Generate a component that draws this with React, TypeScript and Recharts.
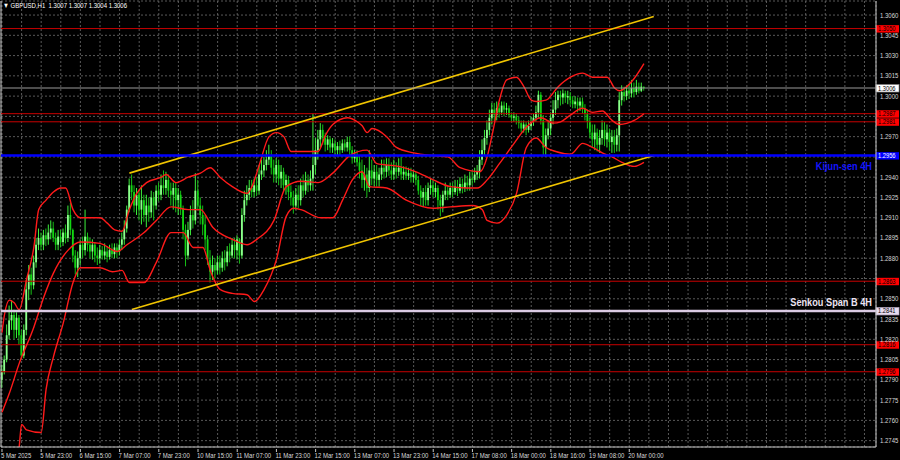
import React from 'react';
import { ComposedChart, Bar, Line, XAxis, YAxis, CartesianGrid, ReferenceLine } from 'recharts';

// ---------- data ----------
const opens = [1.2790,1.2796,1.2805,1.2823,1.2834,1.2838,1.2827,1.2836,1.2823,1.2808,
1.2827,1.2857,1.2868,1.2860,1.2877,1.2890,1.2895,1.2890,1.2897,1.2894,
1.2899,1.2902,1.2895,1.2890,1.2896,1.2892,1.2899,1.2895,1.2912,1.2901,
1.2882,1.2873,1.2880,1.2890,1.2886,1.2896,1.2890,1.2885,1.2890,1.2882,
1.2880,1.2886,1.2882,1.2885,1.2881,1.2886,1.2883,1.2888,1.2885,1.2890,
1.2894,1.2902,1.2916,1.2934,1.2929,1.2919,1.2927,1.2916,1.2923,1.2912,
1.2919,1.2914,1.2925,1.2919,1.2930,1.2927,1.2934,1.2932,1.2938,1.2930,
1.2927,1.2932,1.2923,1.2927,1.2917,1.2901,1.2882,1.2901,1.2912,1.2908,
1.2930,1.2919,1.2912,1.2905,1.2894,1.2879,1.2870,1.2875,1.2871,1.2877,
1.2873,1.2880,1.2877,1.2885,1.2882,1.2890,1.2886,1.2894,1.2882,1.2912,
1.2923,1.2927,1.2932,1.2929,1.2934,1.2930,1.2942,1.2945,1.2949,1.2953,
1.2956,1.2947,1.2942,1.2949,1.2939,1.2944,1.2934,1.2938,1.2929,1.2925,
1.2919,1.2927,1.2923,1.2934,1.2930,1.2938,1.2934,1.2939,1.2949,1.2960,
1.2968,1.2975,1.2969,1.2964,1.2968,1.2962,1.2965,1.2960,1.2963,1.2960,
1.2965,1.2962,1.2966,1.2960,1.2954,1.2956,1.2951,1.2945,1.2938,1.2942,
1.2932,1.2945,1.2939,1.2944,1.2938,1.2942,1.2947,1.2944,1.2949,1.2945,
1.2942,1.2947,1.2944,1.2947,1.2942,1.2944,1.2941,1.2943,1.2940,1.2942,
1.2938,1.2930,1.2925,1.2929,1.2923,1.2932,1.2934,1.2929,1.2932,1.2923,
1.2919,1.2927,1.2930,1.2927,1.2932,1.2929,1.2933,1.2930,1.2935,1.2932,
1.2936,1.2934,1.2939,1.2938,1.2942,1.2944,1.2953,1.2960,1.2969,1.2975,
1.2984,1.2990,1.2986,1.2991,1.2988,1.2993,1.2990,1.2991,1.2986,1.2984,
1.2985,1.2982,1.2980,1.2976,1.2979,1.2975,1.2978,1.2981,1.2984,1.2988,
1.3001,1.2982,1.2962,1.2971,1.2976,1.2984,1.2990,1.2997,1.3001,1.2999,
1.3002,1.2999,1.3000,1.2997,1.2994,1.2996,1.2993,1.2996,1.2991,1.2987,
1.2981,1.2973,1.2968,1.2973,1.2964,1.2969,1.2975,1.2968,1.2973,1.2966,
1.2970,1.2964,1.2971,1.2997,1.3003,1.3000,1.3004,1.3002,1.3006,1.3003,
1.3007,1.3004,1.3007];

const highs = [1.2801,1.2808,1.2831,1.2845,1.2849,1.2842,1.2840,1.2838,1.2827,1.2831,
1.2864,1.2875,1.2873,1.2882,1.2895,1.2902,1.2899,1.2901,1.2902,1.2905,
1.2908,1.2907,1.2899,1.2901,1.2901,1.2902,1.2905,1.2919,1.2921,1.2902,
1.2886,1.2885,1.2894,1.2896,1.2916,1.2899,1.2895,1.2894,1.2892,1.2888,
1.2890,1.2889,1.2891,1.2889,1.2890,1.2891,1.2891,1.2891,1.2894,1.2899,
1.2908,1.2919,1.2939,1.2942,1.2934,1.2932,1.2930,1.2934,1.2927,1.2927,
1.2925,1.2930,1.2929,1.2934,1.2936,1.2942,1.2945,1.2944,1.2942,1.2936,
1.2936,1.2936,1.2932,1.2930,1.2919,1.2905,1.2907,1.2919,1.2923,1.2943,
1.2938,1.2925,1.2919,1.2912,1.2897,1.2886,1.2882,1.2880,1.2882,1.2882,
1.2885,1.2886,1.2889,1.2891,1.2895,1.2895,1.2897,1.2895,1.2917,1.2930,
1.2934,1.2938,1.2938,1.2939,1.2940,1.2949,1.2953,1.2955,1.2960,1.2964,
1.2960,1.2953,1.2954,1.2953,1.2949,1.2947,1.2942,1.2941,1.2934,1.2930,
1.2932,1.2934,1.2939,1.2942,1.2944,1.2942,1.2945,1.2987,1.2969,1.2975,
1.2980,1.2979,1.2973,1.2971,1.2970,1.2969,1.2968,1.2966,1.2967,1.2968,
1.2968,1.2970,1.2970,1.2963,1.2960,1.2960,1.2956,1.2953,1.2949,1.2947,
1.2960,1.2953,1.2949,1.2949,1.2947,1.2953,1.2953,1.2954,1.2954,1.2951,
1.2953,1.2951,1.2954,1.2955,1.2948,1.2948,1.2947,1.2947,1.2945,1.2944,
1.2941,1.2934,1.2932,1.2934,1.2936,1.2939,1.2938,1.2936,1.2934,1.2927,
1.2930,1.2936,1.2934,1.2936,1.2936,1.2938,1.2938,1.2940,1.2939,1.2942,
1.2941,1.2944,1.2945,1.2947,1.2949,1.2960,1.2968,1.2975,1.2982,1.2990,
1.2995,1.2995,1.2996,1.2995,1.2996,1.2996,1.2995,1.2993,1.2988,1.2988,
1.2987,1.2985,1.2982,1.2982,1.2981,1.2982,1.2985,1.2987,1.2993,1.3004,
1.3003,1.2986,1.2976,1.2982,1.2988,1.2997,1.3003,1.3004,1.3004,1.3005,
1.3004,1.3004,1.3003,1.3000,1.3000,1.2999,1.2999,1.2999,1.2994,1.2990,
1.2984,1.2979,1.2979,1.2976,1.2975,1.2982,1.2981,1.2979,1.2976,1.2975,
1.2975,1.2976,1.3003,1.3008,1.3007,1.3008,1.3009,1.3012,1.3010,1.3012,
1.3010,1.3010,1.3007];

const lows = [1.2784,1.2794,1.2803,1.2820,1.2827,1.2820,1.2821,1.2816,1.2805,1.2806,
1.2823,1.2849,1.2853,1.2857,1.2873,1.2886,1.2886,1.2886,1.2889,1.2890,
1.2894,1.2892,1.2886,1.2886,1.2888,1.2889,1.2891,1.2892,1.2897,1.2877,
1.2868,1.2866,1.2875,1.2880,1.2882,1.2885,1.2880,1.2879,1.2877,1.2875,
1.2876,1.2879,1.2879,1.2877,1.2879,1.2880,1.2880,1.2880,1.2882,1.2886,
1.2890,1.2899,1.2914,1.2923,1.2914,1.2912,1.2908,1.2905,1.2907,1.2903,
1.2907,1.2910,1.2908,1.2916,1.2922,1.2923,1.2927,1.2927,1.2925,1.2919,
1.2916,1.2914,1.2912,1.2912,1.2894,1.2874,1.2879,1.2897,1.2902,1.2905,
1.2916,1.2905,1.2897,1.2886,1.2875,1.2862,1.2864,1.2865,1.2868,1.2868,
1.2870,1.2871,1.2874,1.2877,1.2880,1.2880,1.2879,1.2876,1.2880,1.2907,
1.2919,1.2923,1.2925,1.2925,1.2926,1.2927,1.2938,1.2940,1.2945,1.2949,
1.2942,1.2936,1.2936,1.2934,1.2932,1.2929,1.2927,1.2923,1.2919,1.2913,
1.2916,1.2917,1.2919,1.2925,1.2927,1.2929,1.2930,1.2930,1.2942,1.2953,
1.2962,1.2964,1.2959,1.2960,1.2958,1.2958,1.2956,1.2956,1.2956,1.2958,
1.2959,1.2959,1.2956,1.2950,1.2951,1.2948,1.2939,1.2932,1.2930,1.2925,
1.2929,1.2934,1.2933,1.2933,1.2933,1.2938,1.2939,1.2940,1.2941,1.2938,
1.2938,1.2939,1.2941,1.2938,1.2938,1.2938,1.2938,1.2936,1.2936,1.2934,
1.2927,1.2919,1.2918,1.2919,1.2919,1.2927,1.2925,1.2925,1.2916,1.2911,
1.2914,1.2923,1.2923,1.2925,1.2925,1.2927,1.2926,1.2928,1.2928,1.2929,
1.2930,1.2930,1.2934,1.2936,1.2938,1.2939,1.2949,1.2956,1.2964,1.2971,
1.2979,1.2981,1.2982,1.2984,1.2986,1.2985,1.2986,1.2984,1.2981,1.2981,
1.2979,1.2976,1.2973,1.2973,1.2971,1.2973,1.2975,1.2978,1.2981,1.2984,
1.2979,1.2956,1.2955,1.2968,1.2971,1.2979,1.2986,1.2991,1.2993,1.2994,
1.2995,1.2994,1.2993,1.2991,1.2991,1.2988,1.2989,1.2987,1.2982,1.2976,
1.2969,1.2962,1.2960,1.2959,1.2958,1.2964,1.2963,1.2962,1.2960,1.2958,
1.2958,1.2959,1.2959,1.2993,1.2996,1.2997,1.2998,1.2999,1.2999,1.3001,
1.3002,1.3003,1.3004];

const closes = [1.2796,1.2805,1.2823,1.2834,1.2838,1.2827,1.2836,1.2823,1.2808,1.2827,
1.2857,1.2868,1.2860,1.2877,1.2890,1.2895,1.2890,1.2897,1.2894,1.2899,
1.2902,1.2895,1.2890,1.2896,1.2892,1.2899,1.2895,1.2912,1.2901,1.2882,
1.2873,1.2880,1.2890,1.2886,1.2896,1.2890,1.2885,1.2890,1.2882,1.2880,
1.2886,1.2882,1.2885,1.2881,1.2886,1.2883,1.2888,1.2885,1.2890,1.2894,
1.2902,1.2916,1.2934,1.2929,1.2919,1.2927,1.2916,1.2923,1.2912,1.2919,
1.2914,1.2925,1.2919,1.2930,1.2927,1.2934,1.2932,1.2938,1.2930,1.2927,
1.2932,1.2923,1.2927,1.2917,1.2901,1.2882,1.2901,1.2912,1.2908,1.2930,
1.2919,1.2912,1.2905,1.2894,1.2879,1.2870,1.2875,1.2871,1.2877,1.2873,
1.2880,1.2877,1.2885,1.2882,1.2890,1.2886,1.2894,1.2882,1.2912,1.2923,
1.2927,1.2932,1.2929,1.2934,1.2930,1.2942,1.2945,1.2949,1.2953,1.2956,
1.2947,1.2942,1.2949,1.2939,1.2944,1.2934,1.2938,1.2929,1.2925,1.2919,
1.2927,1.2923,1.2934,1.2930,1.2938,1.2934,1.2939,1.2949,1.2960,1.2968,
1.2975,1.2969,1.2964,1.2968,1.2962,1.2965,1.2960,1.2963,1.2960,1.2965,
1.2962,1.2966,1.2960,1.2954,1.2956,1.2951,1.2945,1.2938,1.2942,1.2932,
1.2945,1.2939,1.2944,1.2938,1.2942,1.2947,1.2944,1.2949,1.2945,1.2942,
1.2947,1.2944,1.2947,1.2942,1.2944,1.2941,1.2943,1.2940,1.2942,1.2938,
1.2930,1.2925,1.2929,1.2923,1.2932,1.2934,1.2929,1.2932,1.2923,1.2919,
1.2927,1.2930,1.2927,1.2932,1.2929,1.2933,1.2930,1.2935,1.2932,1.2936,
1.2934,1.2939,1.2938,1.2942,1.2944,1.2953,1.2960,1.2969,1.2975,1.2984,
1.2990,1.2986,1.2991,1.2988,1.2993,1.2990,1.2991,1.2986,1.2984,1.2985,
1.2982,1.2980,1.2976,1.2979,1.2975,1.2978,1.2981,1.2984,1.2988,1.3001,
1.2982,1.2962,1.2971,1.2976,1.2984,1.2990,1.2997,1.3001,1.2999,1.3002,
1.2999,1.3000,1.2997,1.2994,1.2996,1.2993,1.2996,1.2991,1.2987,1.2981,
1.2973,1.2968,1.2973,1.2964,1.2969,1.2975,1.2968,1.2973,1.2966,1.2970,
1.2964,1.2971,1.2997,1.3003,1.3000,1.3004,1.3002,1.3006,1.3003,1.3007,
1.3004,1.3007,1.3006];

// Bollinger-style envelope (red curves), sampled at bar indices
const upperBandBars = [0,1,3,5,7,10,13,15,18,21,24,26,29,32,40,43,46,49,52,55,59,65,67,71,76,81,85,89,94,100,102,105,109,112,115,118,122,129,132,135,141,145,147,149,151,157,161,168,176,182,187,195,198,200,203,206,210,213,216,218,222,227,232,237,241,247,250,252,255,258,262];
const upperBandVals = [1.2825,1.2838,1.2849,1.2847,1.2842,1.2864,1.2888,1.2916,1.2923,1.2929,1.2932,1.2932,1.2916,1.2910,1.2910,1.2906,1.2901,1.2900,1.2916,1.2928,1.2936,1.2940,1.2942,1.2936,1.2940,1.2943,1.2947,1.2940,1.2933,1.2928,1.2933,1.2949,1.2970,1.2973,1.2970,1.2959,1.2959,1.2959,1.2971,1.2979,1.2984,1.2981,1.2978,1.2973,1.2976,1.2970,1.2962,1.2958,1.2956,1.2955,1.2947,1.2944,1.2955,1.2971,1.2997,1.3012,1.3014,1.3007,1.2997,1.2996,1.2997,1.3007,1.3014,1.3017,1.3014,1.3014,1.3006,1.3004,1.3007,1.3013,1.3024];

const middleBandBars = [0,3,7,13,17,21,27,32,40,47,51,58,63,69,76,81,86,94,100,104,111,116,122,129,135,142,149,153,162,169,176,183,190,194,198,203,209,214,220,225,228,232,237,241,245,249,252,258,262];
const middleBandVals = [1.2766,1.2780,1.2802,1.2829,1.2851,1.2869,1.2886,1.2892,1.2891,1.2885,1.2890,1.2899,1.2908,1.2918,1.2916,1.2916,1.2903,1.2894,1.2890,1.2894,1.2908,1.2933,1.2937,1.2936,1.2943,1.2956,1.2960,1.2950,1.2948,1.2944,1.2938,1.2933,1.2932,1.2932,1.2938,1.2950,1.2965,1.2977,1.2984,1.2980,1.2981,1.2986,1.2991,1.2988,1.2989,1.2982,1.2979,1.2982,1.2987];

const lowerBandBars = [5,7,8,10,16,18,21,25,29,32,40,45,49,52,58,63,69,74,78,82,85,89,94,100,103,107,112,116,119,122,130,135,139,143,147,150,157,165,176,183,192,196,198,202,206,210,214,218,222,226,232,237,241,245,249,253,258,262];
const lowerBandVals = [1.2723,1.2740,1.2757,1.2753,1.2751,1.2783,1.2807,1.2832,1.2862,1.2873,1.2873,1.2870,1.2871,1.2862,1.2862,1.2877,1.2899,1.2899,1.2888,1.2888,1.2871,1.2857,1.2854,1.2853,1.2848,1.2857,1.2879,1.2911,1.2917,1.2916,1.2910,1.2910,1.2923,1.2938,1.2944,1.2933,1.2932,1.2923,1.2917,1.2918,1.2919,1.2916,1.2908,1.2906,1.2912,1.2928,1.2962,1.2969,1.2962,1.2959,1.2957,1.2965,1.2962,1.2958,1.2955,1.2951,1.2948,1.2951];

// channel (yellow trend lines): [bar, price] endpoints
const channelUpper = [[52, 1.2943], [266, 1.3059]];
const channelLower = [[53, 1.2842], [266, 1.2956]];

// horizontal levels
const redLevels = [1.3050, 1.2987, 1.2981, 1.2863, 1.2816, 1.2796];
const lastPrice = 1.3006;
const kijunLevel = 1.2956;
const senkouBLevel = 1.2841;

const priceTicks = [1.2745,1.2760,1.2775,1.2790,1.2805,1.2820,1.2835,1.2850,1.2865,1.2880,1.2895,1.2910,1.2925,1.2940,1.2955,1.2970,1.2985,1.3000,1.3015,1.3030,1.3045,1.3060];
const dateLabels = ['5 Mar 2025','5 Mar 23:00','6 Mar 15:00','7 Mar 07:00','7 Mar 23:00','10 Mar 15:00','11 Mar 07:00','11 Mar 23:00','12 Mar 15:00','13 Mar 07:00','13 Mar 23:00','14 Mar 15:00','17 Mar 08:00','18 Mar 00:00','18 Mar 16:00','19 Mar 08:00','20 Mar 00:00'];
const titleText = 'GBPUSD,H1  1.3007 1.3007 1.3004 1.3006';

// ---------- derived tables ----------
const candles = opens.map((o, i) => ({ i, o, h: highs[i], l: lows[i], c: closes[i] }));
const upperBand = upperBandBars.map((i, k) => ({ i, v: upperBandVals[k] }));
const middleBand = middleBandBars.map((i, k) => ({ i, v: middleBandVals[k] }));
const lowerBand = lowerBandBars.map((i, k) => ({ i, v: lowerBandVals[k] }));
const barsPerLabel = 16;
const gridTicks = Array.from({ length: 45 }, (_, k) => k * (barsPerLabel / 2));
const taggedLevels = [...redLevels, lastPrice, kijunLevel, senkouBLevel];

const FONT = "'Liberation Sans', Arial, sans-serif";
const AXIS_COLOR = '#c8c8c8';
const SQUEEZE = 0.8;

function Candle(props: any) {
  const { x, y, width, height, payload } = props;
  if (!payload || x == null || y == null) return null;
  const top = Math.min(y, y + height);
  const bot = Math.max(y, y + height);
  const span = payload.h - payload.l;
  const py = (v: number) => (span > 0 ? top + ((payload.h - v) / span) * (bot - top) : top);
  const cx = x + width / 2;
  const up = payload.c >= payload.o;
  const bTop = py(Math.max(payload.o, payload.c));
  const bBot = py(Math.min(payload.o, payload.c));
  return (
    <g>
      <line x1={cx} x2={cx} y1={top} y2={Math.max(bot, top + 1)} stroke={up ? '#3cf03c' : '#16c016'} strokeWidth={1} />
      <rect x={cx - 0.9} y={bTop} width={1.8} height={Math.max(0.8, bBot - bTop)} fill={up ? '#8dff8d' : '#12d612'} />
    </g>
  );
}

function SmallText(props: any) {
  const { x, y, fill, children, anchor, size, weight, squeeze } = props;
  return (
    <text
      transform={`translate(${x},${y}) scale(${squeeze ?? SQUEEZE},1)`}
      textAnchor={anchor || 'start'}
      fontFamily={FONT}
      fontSize={size ?? 7.5}
      fontWeight={weight || 'normal'}
      fill={fill}
    >
      {children}
    </text>
  );
}

function PriceTag(props: any) {
  const { viewBox, text, bg, fg, border, name, nameColor, nameDy } = props;
  if (!viewBox) return null;
  const right = viewBox.x + viewBox.width;
  const cy = viewBox.y;
  return (
    <g>
      {name ? (
        <SmallText x={right - 4} y={cy + nameDy} anchor="end" size={11.5} weight="bold" fill={nameColor} squeeze={0.8}>
          {name}
        </SmallText>
      ) : null}
      <rect x={right} y={cy - 3.4} width={23} height={7.4} fill={bg} stroke={border || 'none'} strokeWidth={0.7} />
      <SmallText x={right + 2} y={cy + 2.5} fill={fg} size={7.2}>
        {text}
      </SmallText>
    </g>
  );
}

function YTick(props: any) {
  const { x, y, payload } = props;
  const v = Number(payload.value);
  if (taggedLevels.some((lv) => Math.abs(lv - v) < 0.0003)) return null;
  return (
    <SmallText x={x + 2} y={y + 2.5} fill="#d8d8d8">
      {v.toFixed(4)}
    </SmallText>
  );
}

function XTick(props: any) {
  const { x, y, payload } = props;
  const v = Number(payload.value);
  if (v % barsPerLabel !== 0) return null;
  const label = dateLabels[v / barsPerLabel];
  if (!label) return null;
  return (
    <g>
      <line x1={x} x2={x} y1={y} y2={y + 3} stroke={AXIS_COLOR} strokeWidth={1} />
      <SmallText x={x - 1} y={y + 9} fill="#d8d8d8">
        {label}
      </SmallText>
    </g>
  );
}

export default function App() {
  return (
    <div style={{ position: 'absolute', left: 0, top: 0, width: 900, height: 460, background: '#000', overflow: 'hidden' }}>
      <ComposedChart width={900} height={460} data={candles} margin={{ top: 1, right: 0, bottom: 0, left: 1 }}>
        <CartesianGrid stroke="#707070" strokeDasharray="2 2" strokeWidth={0.8} />
        <XAxis
          dataKey="i"
          type="number"
          domain={[-0.4, 356.7]}
          allowDataOverflow
          ticks={gridTicks}
          interval={0}
          height={13}
          tickSize={0}
          tickLine={false}
          axisLine={{ stroke: AXIS_COLOR }}
          tick={<XTick />}
        />
        <YAxis
          orientation="right"
          type="number"
          domain={[1.27403, 1.30704]}
          allowDataOverflow
          ticks={priceTicks}
          interval={0}
          width={24}
          tickSize={0}
          tickLine={false}
          axisLine={{ stroke: AXIS_COLOR }}
          tick={<YTick />}
        />
        <ReferenceLine x={-0.4} stroke={AXIS_COLOR} strokeWidth={1} />
        {redLevels.map((lv) => (
          <ReferenceLine key={lv} y={lv} stroke="#c80000" strokeWidth={1}
            label={<PriceTag text={lv.toFixed(4)} bg="#ff0000" fg="#000000" />} />
        ))}
        <Bar dataKey={(d: any) => [d.l, d.h]} barSize={2} shape={<Candle />} isAnimationActive={false} />
        <Line data={upperBand} dataKey="v" type="monotone" stroke="#ff1a1a" strokeWidth={1.4} dot={false} isAnimationActive={false} />
        <Line data={middleBand} dataKey="v" type="monotone" stroke="#ff1a1a" strokeWidth={1.4} dot={false} isAnimationActive={false} />
        <Line data={lowerBand} dataKey="v" type="monotone" stroke="#ff1a1a" strokeWidth={1.4} dot={false} isAnimationActive={false} />
        <ReferenceLine segment={[{ x: channelUpper[0][0], y: channelUpper[0][1] }, { x: channelUpper[1][0], y: channelUpper[1][1] }]} stroke="#f0c400" strokeWidth={1.6} />
        <ReferenceLine segment={[{ x: channelLower[0][0], y: channelLower[0][1] }, { x: channelLower[1][0], y: channelLower[1][1] }]} stroke="#f0c400" strokeWidth={1.6} />
        <ReferenceLine y={lastPrice} stroke="#9a9a9a" strokeWidth={1}
          label={<PriceTag text={lastPrice.toFixed(4)} bg="#ffffff" fg="#000000" border="#888" />} />
        <ReferenceLine y={kijunLevel} stroke="#0000ff" strokeWidth={2.6}
          label={<PriceTag text={kijunLevel.toFixed(4)} bg="#0000ff" fg="#ffffff" name="Kijun-sen 4H" nameColor="#1414ff" nameDy={14.5} />} />
        <ReferenceLine y={senkouBLevel} stroke="#dccbe4" strokeWidth={2.4}
          label={<PriceTag text={senkouBLevel.toFixed(4)} bg="#e8dcef" fg="#000000" border="#b8a8c0" name="Senkou Span B 4H" nameColor="#ece4f2" nameDy={-5} />} />
      </ComposedChart>
      <div style={{ position: 'absolute', left: 3, top: 1, fontFamily: FONT, fontSize: 7.5, color: '#ffffff', whiteSpace: 'pre', lineHeight: '10px', transform: 'scaleX(0.8)', transformOrigin: '0 0' }}>
        {'\u25BC ' + titleText}
      </div>
    </div>
  );
}
